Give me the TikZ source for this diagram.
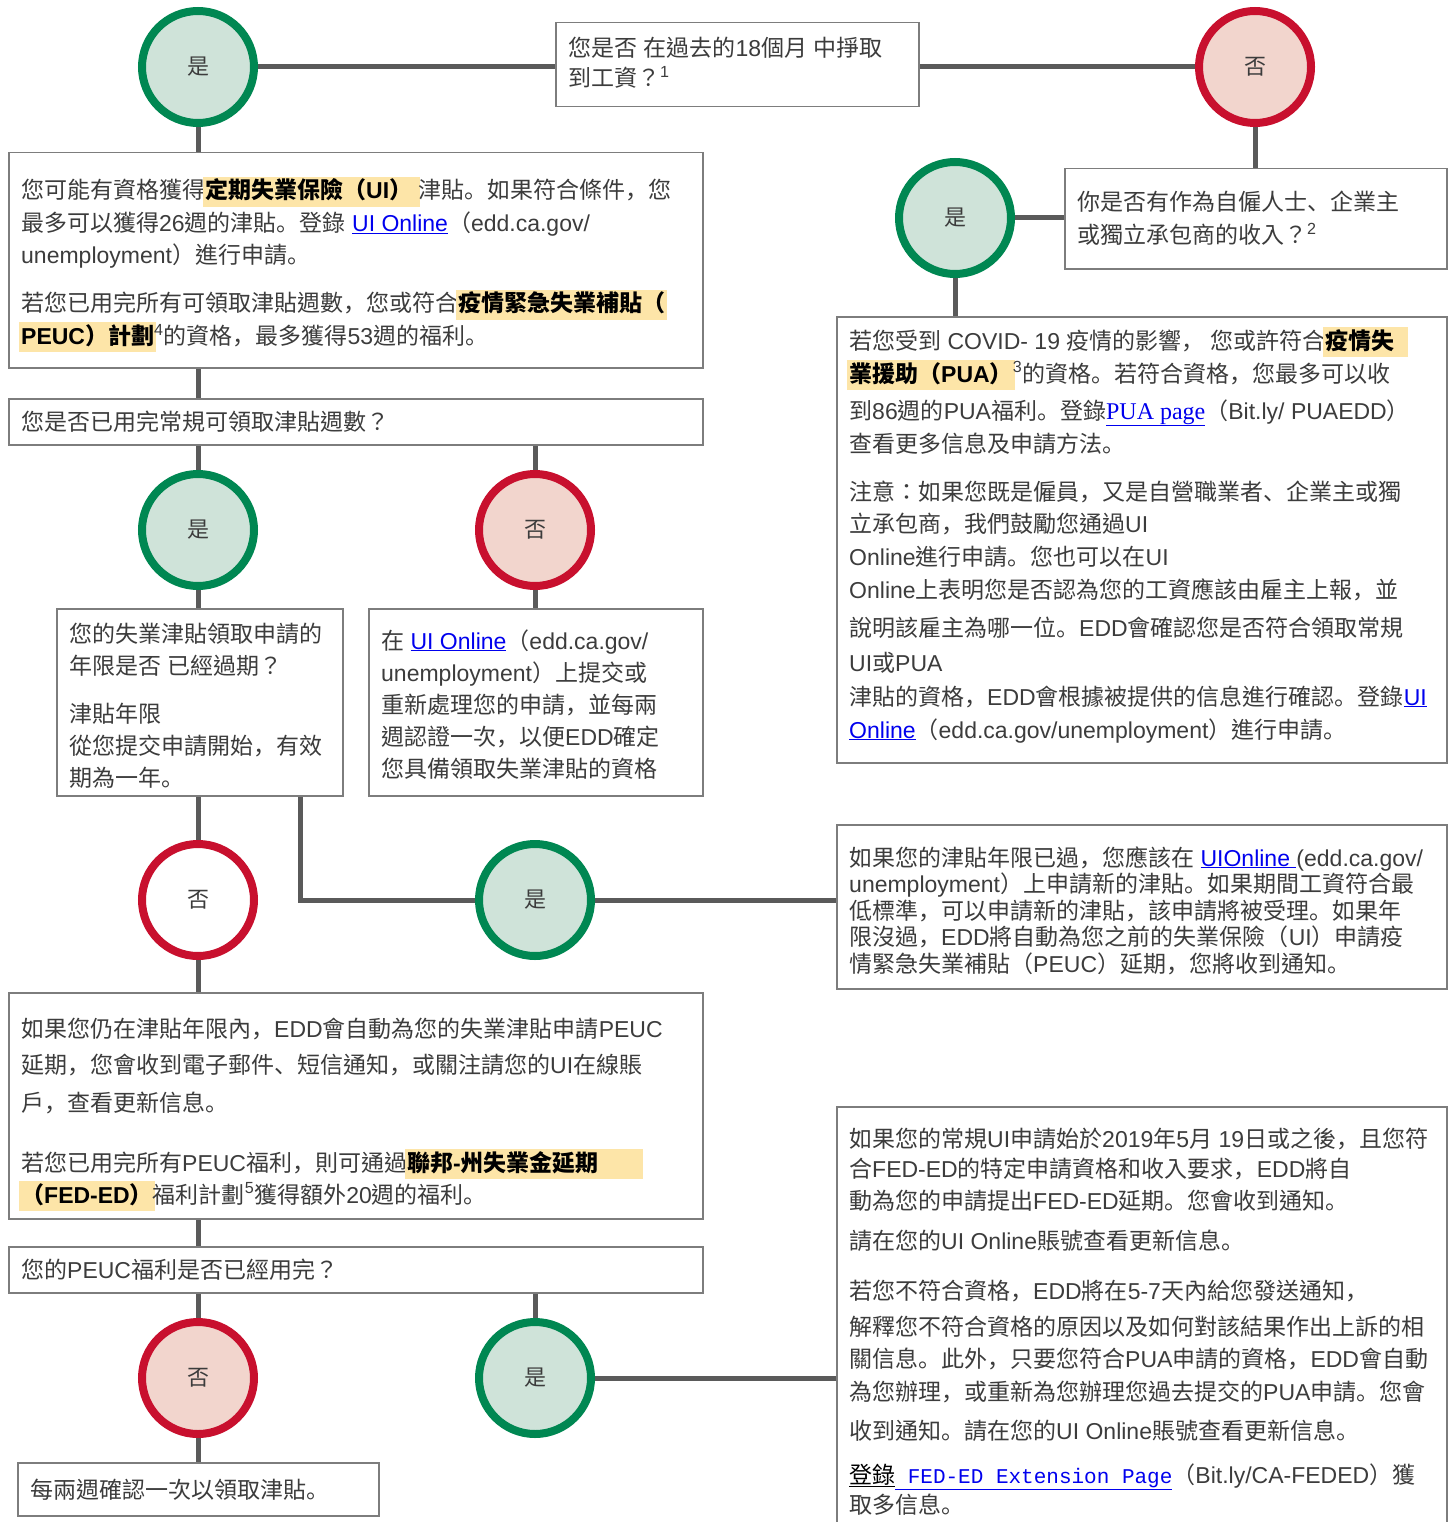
\documentclass[tikz,border=0pt]{standalone}
\usepackage{fontspec}
\setmainfont{Liberation Sans}
\newfontfamily\latinf{Liberation Sans}
\newfontfamily\serifl{Liberation Serif}
\newfontfamily\monol{Liberation Mono}
\newfontfamily\cjk{Noto Sans CJK TC}
\newfontfamily\cjkp{Noto Sans CJK SC}
\usetikzlibrary{calc}
\definecolor{ygreen}{RGB}{0,135,82}
\definecolor{yfill}{RGB}{207,227,217}
\definecolor{nred}{RGB}{200,16,46}
\definecolor{nfill}{RGB}{242,213,205}
\definecolor{linec}{RGB}{90,90,90}
\definecolor{boxc}{RGB}{125,125,125}
\definecolor{hlc}{RGB}{253,229,168}
\definecolor{txtc}{RGB}{60,60,60}
\definecolor{linkc}{RGB}{0,0,238}
% CJK / Latin font switching
\newXeTeXintercharclass\cjkclass
\newXeTeXintercharclass\puncclass
\newcount\ccnt
\ccnt="2E80 \loop\XeTeXcharclass\ccnt=\cjkclass\advance\ccnt by 1 \ifnum\ccnt<"A000 \repeat
\ccnt="FF00 \loop\XeTeXcharclass\ccnt=\cjkclass\advance\ccnt by 1 \ifnum\ccnt<"FFF0 \repeat
\XeTeXcharclass"3001=\puncclass
\XeTeXcharclass"3002=\puncclass
\XeTeXcharclass"FF0C=\puncclass
\XeTeXinterchartoks 0 \cjkclass = {\cjk}
\XeTeXinterchartoks 4095 \cjkclass = {\cjk}
\XeTeXinterchartoks \cjkclass 0 = {\latinf}
\XeTeXinterchartoks \cjkclass 4095 = {\latinf}
\XeTeXinterchartoks 0 \puncclass = {\cjkp}
\XeTeXinterchartoks 4095 \puncclass = {\cjkp}
\XeTeXinterchartoks \cjkclass \puncclass = {\cjkp}
\XeTeXinterchartoks \puncclass \cjkclass = {\cjk}
\XeTeXinterchartoks \puncclass 0 = {\latinf}
\XeTeXinterchartoks \puncclass 4095 = {\latinf}
\newcommand\tb[2]{\vtop{\hsize=900pt\parindent=0pt\baselineskip=#1\lineskiplimit=-100pt\lineskip=0pt\raggedright\leavevmode #2\par}}
\newcommand\hl[1]{\hspace{-2pt}{\fboxsep=2pt\colorbox{hlc}{\rule[-6pt]{0pt}{26pt}\bfseries\color{black}#1}}\hspace{-2pt}}
\newcommand\lnk[1]{{\color{linkc}\underline{#1}}}
\newcommand\lnks[1]{{\color{linkc}\underline{\fontsize{24}{28}\selectfont\serifl #1}}}
\newcommand\lnkm[1]{{\color{linkc}\underline{\fontsize{21}{26}\selectfont\monol #1}}}
\tikzset{
  yescirc/.style={circle, draw=ygreen, fill=yfill, line width=8pt, minimum size=112pt, inner sep=0pt, font=\fontsize{22}{26}\selectfont, text=txtc},
  nocirc/.style={circle, draw=nred, fill=nfill, line width=8pt, minimum size=112pt, inner sep=0pt, font=\fontsize{22}{26}\selectfont, text=txtc},
  nowhite/.style={nocirc, fill=white},
  qbox/.style={draw=boxc, line width=1.5pt, fill=white, inner sep=0pt, anchor=north west},
  txt/.style={anchor=base west, inner sep=0pt, font=\fontsize{23}{28}\selectfont, text=txtc},
  conn/.style={draw=linec, line width=5pt}
}
\pgfdeclarelayer{bg}
\pgfsetlayers{bg,main}
\begin{document}
\XeTeXinterchartokenstate=1
\begin{tikzpicture}[x=1pt,y=-1pt]
\useasboundingbox (0,0) rectangle (1450,1522);
\clip (0,0) rectangle (1450,1522);
% boxes
\node[qbox, minimum width=363pt, minimum height=84pt] (q1) at (555,22) {};
\node[qbox, minimum width=382pt, minimum height=100pt] (b10) at (1064,168) {};
\node[qbox, minimum width=694pt, minimum height=215pt] (b1) at (8,152) {};
\node[qbox, minimum width=694pt, minimum height=46pt] (b2) at (8,398) {};
\node[qbox, minimum width=286pt, minimum height=187pt] (b3) at (56,608) {};
\node[qbox, minimum width=334pt, minimum height=187pt] (b4) at (368,608) {};
\node[qbox, minimum width=610pt, minimum height=446pt] (b11) at (836,316) {};
\node[qbox, minimum width=610pt, minimum height=164pt] (b5) at (836,824) {};
\node[qbox, minimum width=694pt, minimum height=226pt] (b6) at (8,992) {};
\node[qbox, minimum width=694pt, minimum height=46pt] (b7) at (8,1246) {};
\node[qbox, minimum width=361pt, minimum height=53pt] (b8) at (17,1462) {};
\node[qbox, minimum width=610pt, minimum height=440pt] (b9) at (836,1106) {};
% circles
\node[yescirc] (c1) at (198,67) {是};
\node[nocirc] (c2) at (1255,67) {否};
\node[yescirc] (c3) at (955,218) {是};
\node[yescirc] (c4) at (198,530) {是};
\node[nocirc] (c5) at (535,530) {否};
\node[nowhite] (c6) at (198,900) {否};
\node[yescirc] (c7) at (535,900) {是};
\node[nocirc] (c8) at (198,1378) {否};
\node[yescirc] (c9) at (535,1378) {是};
\coordinate (k) at (300,900);
% texts
\node[txt] (tq1) at (568,57) {\tb{30pt}{您是否 在過去的18個月 中掙取\\到工資？\textsuperscript{1}}};
\node[txt] (t10) at (1077,211) {\tb{33pt}{你是否有作為自僱人士、企業主\\或獨立承包商的收入？\textsuperscript{2}}};
\node[txt] (t1) at (21,199) {\tb{32.5pt}{您可能有資格獲得\hl{定期失業保險（UI）\hspace{6pt}}津貼。如果符合條件，您\\
最多可以獲得26週的津貼。登錄 \lnk{UI Online}（edd.ca.gov/\\
unemployment）進行申請。\\[15.5pt]
若您已用完所有可領取津貼週數，您或符合\hl{疫情緊急失業補貼（}\\
\hl{PEUC）計劃}\textsuperscript{4}的資格，最多獲得53週的福利。}};
\node[txt] (t2) at (21,430) {\tb{32pt}{您是否已用完常規可領取津貼週數？}};
\node[txt] (t3) at (69,642) {\tb{32pt}{您的失業津貼領取申請的\\年限是否 已經過期？\\[16pt]津貼年限\\從您提交申請開始，有效\\期為一年。}};
\node[txt] (t4) at (381,649) {\tb{32pt}{在 \lnk{UI Online}（edd.ca.gov/\\unemployment）上提交或\\重新處理您的申請，並每兩\\週認證一次，以便EDD確定\\您具備領取失業津貼的資格}};
\node[txt] (t11) at (849,349) {\tb{33pt}{若您受到 COVID- 19 疫情的影響，\hspace{6pt}您或許符合\hl{疫情失\hspace{12pt}}\\
\hl{業援助（PUA）}\textsuperscript{3}的資格。若符合資格，您最多可以收\\[4pt]
到86週的PUA福利。登錄\lnks{PUA page}（Bit.ly/ PUAEDD）\\
查看更多信息及申請方法。\\[15pt]
注意：如果您既是僱員，又是自營職業者、企業主或獨\\[-1pt]
立承包商，我們鼓勵您通過UI\\
Online進行申請。您也可以在UI\\
Online上表明您是否認為您的工資應該由雇主上報，並\\[5pt]
說明該雇主為哪一位。EDD會確認您是否符合領取常規\\[2pt]
UI或PUA\\[1pt]
津貼的資格，EDD會根據被提供的信息進行確認。登錄\lnk{UI}\\
\lnk{Online}（edd.ca.gov/unemployment）進行申請。}};
\node[txt] (t5) at (849,866) {\tb{26.5pt}{如果您的津貼年限已過，您應該在 \lnk{UIOnline }(edd.ca.gov/\\
unemployment）上申請新的津貼。如果期間工資符合最\\
低標準，可以申請新的津貼，該申請將被受理。如果年\\
限沒過，EDD將自動為您之前的失業保險（UI）申請疫\\
情緊急失業補貼（PEUC）延期，您將收到通知。}};
\node[txt] (t6) at (21,1037) {\tb{36pt}{如果您仍在津貼年限內，EDD會自動為您的失業津貼申請PEUC\\
延期，您會收到電子郵件、短信通知，或關注請您的UI在線賬\\[2pt]
戶，查看更新信息。\\[24pt]
若您已用完所有PEUC福利，則可通過\hl{聯邦-州失業金延期\hspace{42pt}}\\[-4pt]
\hl{（FED-ED）}福利計劃\textsuperscript{5}獲得額外20週的福利。}};
\node[txt] (t7) at (21,1278) {\tb{32pt}{您的PEUC福利是否已經用完？}};
\node[txt] (t8) at (30,1498) {\tb{32pt}{每兩週確認一次以領取津貼。}};
\node[txt] (t9) at (849,1147) {\tb{32pt}{如果您的常規UI申請始於2019年5月 19日或之後，且您符\\[-2pt]
合FED-ED的特定申請資格和收入要求，EDD將自\\
動為您的申請提出FED-ED延期。您會收到通知。\\[8pt]
請在您的UI Online賬號查看更新信息。\\[18pt]
若您不符合資格，EDD將在5-7天內給您發送通知，\\[4pt]
解釋您不符合資格的原因以及如何對該結果作出上訴的相\\
關信息。此外，只要您符合PUA申請的資格，EDD會自動\\[1pt]
為您辦理，或重新為您辦理您過去提交的PUA申請。您會\\[7pt]
收到通知。請在您的UI Online賬號查看更新信息。\\[12pt]
{\color{black}\underline{登錄}}\lnkm{\ FED-ED Extension Page}（Bit.ly/CA-FEDED）獲\\[-2pt]
取多信息。}};
% connectors
\begin{pgfonlayer}{bg}
\draw[conn] (c1.east) -- (c1.east -| q1.west);
\draw[conn] (c2.west -| q1.east) -- (c2.west);
\draw[conn] (c1.south) -- (c1.south |- b1.north);
\draw[conn] (c2.south) -- (c2.south |- b10.north);
\draw[conn] (c3.east) -- (c3.east -| b10.west);
\draw[conn] (c3.south) -- (c3.south |- b11.north);
\draw[conn] (c1.south |- b1.south) -- (c1.south |- b2.north);
\draw[conn] (c4.north |- b2.south) -- (c4.north);
\draw[conn] (c5.north |- b2.south) -- (c5.north);
\draw[conn] (c4.south) -- (c4.south |- b3.north);
\draw[conn] (c5.south) -- (c5.south |- b4.north);
\draw[conn] (c6.north |- b3.south) -- (c6.north);
\draw[conn] (k |- b3.south) -- (k) -- (c7.west);
\draw[conn] (c7.east) -- (c7.east -| b5.west);
\draw[conn] (c6.south) -- (c6.south |- b6.north);
\draw[conn] (c6.south |- b6.south) -- (c6.south |- b7.north);
\draw[conn] (c8.north |- b7.south) -- (c8.north);
\draw[conn] (c9.north |- b7.south) -- (c9.north);
\draw[conn] (c8.south) -- (c8.south |- b8.north);
\draw[conn] (c9.east) -- (c9.east -| b9.west);
\end{pgfonlayer}
\end{tikzpicture}
\end{document}
